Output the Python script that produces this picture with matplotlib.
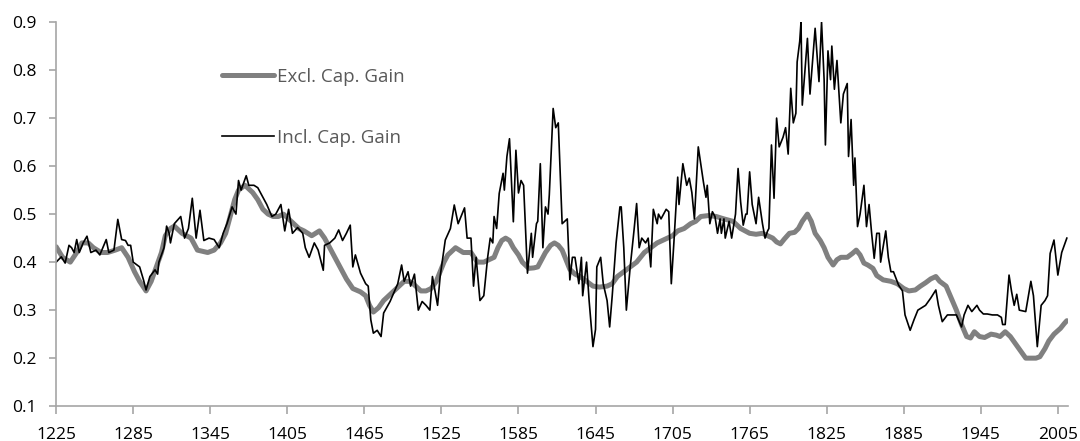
import matplotlib.pyplot as plt

# Incl. Cap. Gain (black, noisy)
incl_years = [1225, 1229, 1232, 1235, 1237, 1239, 1241, 1243, 1246, 1249, 1252, 1256, 1259, 1264, 1266,
              1270, 1273, 1276, 1279, 1281, 1283, 1285, 1290, 1293, 1295, 1298, 1302, 1304, 1305, 1309,
              1311, 1313, 1314, 1317, 1322, 1325, 1328, 1331, 1334, 1337, 1340, 1344, 1348, 1352, 1355,
              1358, 1362, 1365, 1367, 1369, 1373, 1375, 1379, 1382, 1386, 1389, 1393, 1396, 1400, 1403,
              1406, 1409, 1413, 1417, 1419, 1422, 1426, 1429, 1433, 1434, 1438, 1442, 1445, 1448, 1451,
              1454, 1456, 1458, 1462, 1466, 1468, 1470, 1472, 1475, 1478, 1480, 1485, 1491, 1494, 1496,
              1499, 1501, 1504, 1507, 1510, 1513, 1516, 1518, 1522, 1524, 1528, 1532, 1535, 1538, 1543,
              1545, 1548, 1550, 1552, 1555, 1558, 1561, 1563, 1565, 1566, 1568, 1570, 1573, 1574, 1576,
              1578, 1581, 1583, 1585, 1587, 1589, 1592, 1595, 1596, 1599, 1600, 1602, 1604, 1606, 1608,
              1609, 1612, 1614, 1616, 1619, 1623, 1625, 1627, 1629, 1632, 1634, 1635, 1638, 1640, 1643,
              1645, 1646, 1649, 1651, 1654, 1656, 1658, 1661, 1664, 1665, 1667, 1669, 1672, 1675, 1677,
              1679, 1681, 1684, 1686, 1688, 1690, 1693, 1694, 1696, 1700, 1702, 1704, 1706, 1709, 1710,
              1713, 1716, 1718, 1720, 1722, 1725, 1729, 1731, 1732, 1734, 1736, 1738, 1740, 1742, 1743,
              1745, 1746, 1749, 1751, 1754, 1756, 1758, 1760, 1762, 1763, 1765, 1767, 1770, 1772, 1775,
              1777, 1779, 1780, 1782, 1784, 1786, 1788, 1791, 1793, 1795, 1797, 1799, 1801, 1802, 1804,
              1805, 1806, 1810, 1812, 1816, 1819, 1821, 1823, 1824, 1826, 1828, 1829, 1831, 1833, 1836,
              1838, 1841, 1842, 1844, 1846, 1847, 1849, 1851, 1854, 1856, 1858, 1860, 1862, 1864, 1866,
              1867, 1871, 1873, 1875, 1877, 1881, 1884, 1886, 1890, 1893, 1896, 1899, 1902, 1906, 1910,
              1912, 1915, 1919, 1923, 1926, 1930, 1932, 1935, 1938, 1942, 1944, 1947, 1950, 1954, 1958,
              1961, 1962, 1964, 1967, 1969, 1971, 1973, 1975, 1980, 1984, 1986, 1989, 1992, 1995, 1997,
              1999, 2002, 2005, 2008, 2012]
incl_vals = [0.400, 0.411, 0.398, 0.435, 0.430, 0.420, 0.447, 0.420, 0.440, 0.454, 0.420, 0.425, 0.415, 0.447, 0.420,
             0.425, 0.489, 0.447, 0.445, 0.435, 0.435, 0.400, 0.390, 0.363, 0.342, 0.370, 0.384, 0.375, 0.400, 0.430,
             0.475, 0.460, 0.440, 0.480, 0.495, 0.450, 0.470, 0.533, 0.450, 0.508, 0.445, 0.450, 0.447, 0.430, 0.460,
             0.480, 0.515, 0.500, 0.570, 0.550, 0.580, 0.560, 0.560, 0.555, 0.535, 0.520, 0.495, 0.500, 0.520, 0.465,
             0.510, 0.460, 0.472, 0.460, 0.430, 0.410, 0.440, 0.425, 0.383, 0.435, 0.440, 0.450, 0.467, 0.445, 0.460,
             0.477, 0.390, 0.415, 0.377, 0.355, 0.350, 0.280, 0.252, 0.258, 0.245, 0.294, 0.318, 0.355, 0.394, 0.360,
             0.380, 0.350, 0.375, 0.300, 0.318, 0.310, 0.300, 0.370, 0.310, 0.370, 0.446, 0.470, 0.519, 0.480, 0.513,
             0.450, 0.450, 0.350, 0.410, 0.320, 0.330, 0.410, 0.450, 0.440, 0.495, 0.470, 0.543, 0.585, 0.550, 0.620,
             0.657, 0.484, 0.633, 0.544, 0.570, 0.560, 0.377, 0.460, 0.410, 0.480, 0.485, 0.605, 0.430, 0.515, 0.500,
             0.540, 0.720, 0.680, 0.690, 0.480, 0.490, 0.363, 0.410, 0.410, 0.355, 0.410, 0.330, 0.400, 0.320, 0.224,
             0.260, 0.390, 0.410, 0.355, 0.320, 0.265, 0.330, 0.440, 0.515, 0.515, 0.430, 0.300, 0.390, 0.467, 0.522,
             0.430, 0.450, 0.440, 0.450, 0.390, 0.510, 0.480, 0.500, 0.490, 0.510, 0.505, 0.355, 0.440, 0.577, 0.520,
             0.605, 0.560, 0.575, 0.545, 0.490, 0.640, 0.567, 0.535, 0.560, 0.480, 0.505, 0.495, 0.460, 0.490, 0.460,
             0.490, 0.450, 0.485, 0.450, 0.500, 0.595, 0.525, 0.477, 0.500, 0.500, 0.588, 0.520, 0.480, 0.535, 0.480,
             0.450, 0.465, 0.470, 0.644, 0.533, 0.700, 0.640, 0.660, 0.680, 0.625, 0.762, 0.690, 0.710, 0.817, 0.860,
             0.900, 0.727, 0.866, 0.750, 0.887, 0.776, 0.900, 0.780, 0.644, 0.840, 0.780, 0.850, 0.760, 0.820, 0.690,
             0.750, 0.772, 0.620, 0.697, 0.560, 0.617, 0.474, 0.500, 0.560, 0.474, 0.520, 0.460, 0.408, 0.460, 0.460,
             0.400, 0.465, 0.410, 0.380, 0.380, 0.352, 0.340, 0.290, 0.258, 0.280, 0.300, 0.305, 0.310, 0.325, 0.342,
             0.310, 0.276, 0.290, 0.290, 0.290, 0.265, 0.290, 0.310, 0.297, 0.310, 0.300, 0.292, 0.292, 0.290, 0.290,
             0.285, 0.270, 0.270, 0.373, 0.338, 0.310, 0.333, 0.300, 0.297, 0.360, 0.330, 0.224, 0.310, 0.320, 0.330,
             0.418, 0.446, 0.373, 0.420, 0.450]

# Excl. Cap. Gain (grey, smooth)
excl_years = [1225, 1230, 1236, 1241, 1245, 1250, 1254, 1260, 1265, 1271, 1276, 1281, 1286, 1290, 1295,
              1299, 1303, 1307, 1310, 1314, 1317, 1323, 1330, 1335, 1343, 1348, 1353, 1357, 1361, 1364,
              1367, 1372, 1378, 1382, 1386, 1390, 1394, 1398, 1402, 1406, 1410, 1414, 1418, 1424, 1430,
              1434, 1438, 1444, 1451, 1456, 1462, 1466, 1469, 1472, 1476, 1480, 1484, 1488, 1492, 1496,
              1500, 1503, 1509, 1513, 1517, 1521, 1524, 1527, 1530, 1536, 1542, 1548, 1553, 1558, 1562,
              1566, 1569, 1572, 1575, 1578, 1581, 1585, 1588, 1593, 1597, 1600, 1603, 1606, 1610, 1613,
              1616, 1619, 1622, 1625, 1629, 1633, 1638, 1643, 1648, 1654, 1658, 1662, 1667, 1672, 1677,
              1683, 1688, 1693, 1697, 1701, 1705, 1709, 1714, 1719, 1723, 1727, 1733, 1739, 1745, 1752,
              1758, 1765, 1770, 1775, 1779, 1783, 1786, 1789, 1792, 1796, 1800, 1803, 1806, 1810, 1813,
              1816, 1820, 1823, 1826, 1830, 1833, 1836, 1841, 1845, 1848, 1851, 1854, 1857, 1861, 1864,
              1869, 1875, 1880, 1885, 1889, 1894, 1898, 1902, 1906, 1910, 1913, 1918, 1922, 1926, 1930,
              1934, 1937, 1940, 1944, 1948, 1953, 1957, 1960, 1964, 1968, 1972, 1976, 1980, 1984, 1988,
              1991, 1995, 1998, 2002, 2007, 2010, 2012]
excl_vals = [0.432, 0.410, 0.400, 0.420, 0.440, 0.440, 0.430, 0.420, 0.420, 0.425, 0.430, 0.410, 0.380, 0.360, 0.340,
             0.360, 0.390, 0.420, 0.455, 0.470, 0.475, 0.460, 0.450, 0.425, 0.420, 0.425, 0.440, 0.460, 0.500, 0.530,
             0.550, 0.560, 0.545, 0.530, 0.510, 0.500, 0.495, 0.495, 0.500, 0.490, 0.480, 0.470, 0.465, 0.455, 0.465,
             0.450, 0.430, 0.400, 0.365, 0.345, 0.338, 0.330, 0.310, 0.296, 0.305, 0.320, 0.330, 0.340, 0.350, 0.360,
             0.360, 0.355, 0.340, 0.340, 0.345, 0.360, 0.380, 0.400, 0.415, 0.430, 0.420, 0.420, 0.400, 0.400, 0.405,
             0.410, 0.430, 0.445, 0.450, 0.445, 0.430, 0.415, 0.400, 0.387, 0.388, 0.390, 0.405, 0.420, 0.435, 0.440,
             0.435, 0.425, 0.405, 0.385, 0.375, 0.370, 0.360, 0.350, 0.348, 0.350, 0.355, 0.370, 0.380, 0.390, 0.400,
             0.420, 0.430, 0.440, 0.445, 0.450, 0.455, 0.465, 0.470, 0.480, 0.485, 0.495, 0.497, 0.495, 0.490, 0.485,
             0.470, 0.460, 0.458, 0.460, 0.455, 0.450, 0.442, 0.438, 0.448, 0.460, 0.462, 0.470, 0.485, 0.500, 0.485,
             0.460, 0.445, 0.430, 0.410, 0.394, 0.405, 0.410, 0.410, 0.418, 0.425, 0.415, 0.398, 0.394, 0.387, 0.372,
             0.363, 0.360, 0.355, 0.345, 0.340, 0.342, 0.350, 0.357, 0.365, 0.370, 0.360, 0.350, 0.325, 0.300, 0.270,
             0.245, 0.242, 0.255, 0.245, 0.243, 0.250, 0.248, 0.245, 0.255, 0.245, 0.230, 0.215, 0.200, 0.200, 0.200,
             0.203, 0.220, 0.236, 0.250, 0.262, 0.272, 0.278]

x_ticks = list(range(1225, 2006, 60))
y_ticks = [0.1, 0.2, 0.3, 0.4, 0.5, 0.6, 0.7, 0.8, 0.9]

plt.rcParams['font.family'] = ['Open Sans', 'DejaVu Sans']

fig = plt.figure(figsize=(10.8, 4.41), dpi=100)
ax = fig.add_axes([0.052, 0.079, 0.937, 0.871])

ax.plot(excl_years, excl_vals, color='#808080', lw=3.6, solid_capstyle='round',
        solid_joinstyle='round', label='Excl. Cap. Gain')
ax.plot(incl_years, incl_vals, color='black', lw=1.2, label='Incl. Cap. Gain')

ax.set_xlim(1225, 2013)
ax.set_ylim(0.1, 0.9)
ax.set_xticks(x_ticks)
ax.set_yticks(y_ticks)
ax.set_yticklabels([f'{v:.1f}' for v in y_ticks])

for s in ['top', 'right']:
    ax.spines[s].set_visible(False)
for s in ['left', 'bottom']:
    ax.spines[s].set_color('#A6A6A6')
    ax.spines[s].set_linewidth(1.2)
ax.tick_params(axis='both', direction='out', color='#A6A6A6', width=1.2, labelsize=12.5, labelcolor='black')
ax.tick_params(axis='x', length=6, pad=9)
ax.tick_params(axis='y', length=5, pad=9)

leg = ax.legend(loc='upper left', bbox_to_anchor=(0.147, 0.925), frameon=False, fontsize=13.5,
                handlelength=2.8, handletextpad=0.15, labelspacing=2.3)
for t in leg.get_texts():
    t.set_color('#595959')

fig.savefig('out.png', dpi=100)
